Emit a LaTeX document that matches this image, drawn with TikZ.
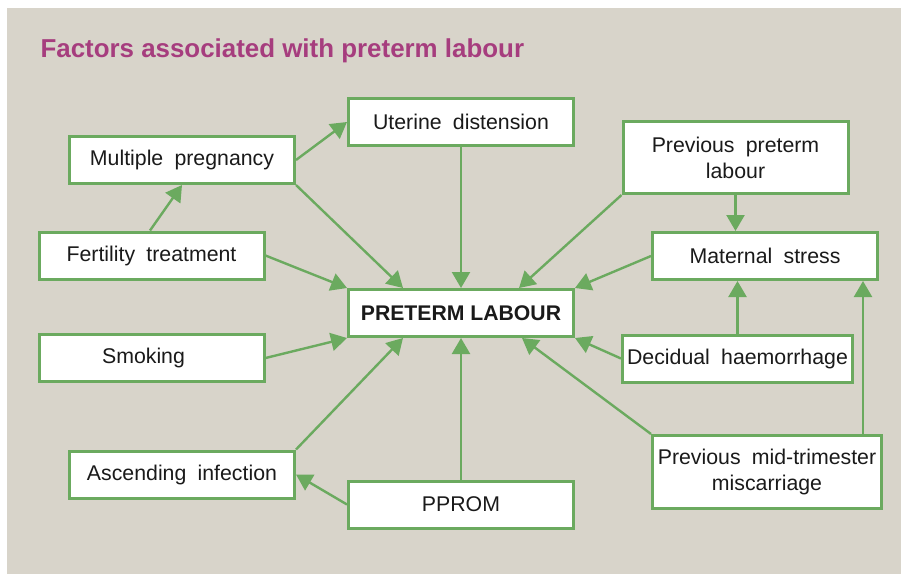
\documentclass[tikz,border=0pt]{standalone}
\usepackage{fontspec}
\setmainfont{Liberation Sans}
\newfontfamily\boxfont[WordSpace=1.9]{Liberation Sans}
\usetikzlibrary{arrows.meta}
\definecolor{paper}{HTML}{D8D4CA}
\definecolor{leaf}{HTML}{6BAA5F}
\definecolor{plum}{HTML}{A63D7E}
\definecolor{ink}{HTML}{1A1A1A}
\begin{document}
\begin{tikzpicture}[x=1pt,y=-1pt,
  factor/.style={draw=leaf,line width=3pt,fill=white,inner sep=0pt,
    minimum width=225pt,minimum height=47pt,align=center,
    font=\boxfont\fontsize{21.3}{26}\selectfont,text=ink},
  link/.style={leaf,line width=2.4pt,-{Triangle[length=16pt,width=18pt]}}]
\useasboundingbox (0,0) rectangle (901,574);
\fill[paper] (7,8) rectangle (901,574);
\node[anchor=base west,text=plum,font=\bfseries\fontsize{25.9}{30}\selectfont] (title) at (37,57) {Factors associated with preterm labour};
% left column
\node[factor] (mp) at (182,160) {Multiple pregnancy};
\node[factor] (ft) at (151.5,255.5) {Fertility treatment};
\node[factor] (sm) at (151.5,358) {Smoking\hspace{16pt}};
\node[factor] (ai) at (182,474.5) {Ascending infection};
% middle column
\node[factor] (ud) at (461,122) {Uterine distension};
\node[factor,font=\bfseries\fontsize{21.2}{26}\selectfont] (pl) at (461,313) {PRETERM LABOUR};
\node[factor] (pprom) at (461,504.5) {PPROM};
% right column
\node[factor,minimum height=72pt] (ppl) at (735.5,157.5) {Previous preterm\\labour};
\node[factor] (ms) at (765,256) {Maternal stress};
\node[factor,minimum width=230pt] (dh) at (737.5,358.5) {Decidual haemorrhage};
\node[factor,minimum width=229pt,minimum height=73pt] (pmtm) at (767,472) {Previous mid-trimester\\miscarriage};
% arrows into the middle box
\draw[link] (mp.east) -- (ud.west);
\draw[link] (mp.south east) -- ([xshift=56pt]pl.north west);
\draw[link] ([xshift=-1.5pt]ft.north) -- (mp.south);
\draw[link] (ft.east) -- (pl.north west);
\draw[link] (ud.south) -- (pl.north);
\draw[link] (ppl.south west) -- ([xshift=-56pt]pl.north east);
\draw[link] (ppl.south) -- (ppl.south |- ms.north);
\draw[link] (ms.west) -- (pl.north east);
\draw[link] (dh.north) -- (dh.north |- ms.south);
\draw[link] (dh.west) -- (pl.south east);
\draw[link] ([xshift=96pt]pmtm.north) -- ([xshift=96pt]pmtm.north |- ms.south);
\draw[link] (pmtm.north west) -- ([xshift=-53pt]pl.south east);
\draw[link] (sm.east) -- (pl.south west);
\draw[link] (ai.north east) -- ([xshift=56pt]pl.south west);
\draw[link] (pprom.north) -- (pl.south);
\draw[link] (pprom.west) -- (ai.east);
\end{tikzpicture}
\end{document}
